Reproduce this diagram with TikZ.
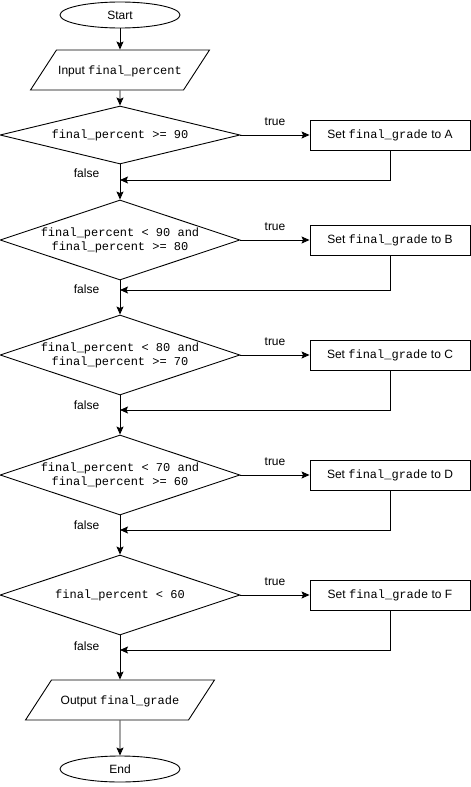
\documentclass[tikz,border=0pt]{standalone}
\usepackage{fontspec}
\setmainfont{Liberation Sans}
\setmonofont{Liberation Mono}
\usetikzlibrary{arrows.meta}
\usetikzlibrary{positioning}
\usetikzlibrary{shapes.geometric}

\tikzset{
  terminal/.style={ellipse, draw, minimum width=120pt, minimum height=26pt, inner sep=0pt},
  io/.style={trapezium, trapezium left angle=57, trapezium right angle=123,
    trapezium stretches body, draw, inner xsep=0pt, inner ysep=0pt,
    text height=24pt, text depth=16pt, minimum height=40pt},
  decision/.style={diamond, draw, aspect=3, inner sep=0pt, minimum width=240pt,
    minimum height=80pt, align=center},
  process/.style={rectangle, draw, minimum width=160pt, minimum height=30pt},
  flow/.style={-{Stealth[length=8pt,width=7pt,inset=1.5pt]}},
}

\begin{document}
\begin{tikzpicture}[x=1pt, y=-1pt, font=\fontsize{12}{14}\selectfont, line width=0.9pt]
    \useasboundingbox (0,0) rectangle (471,787);

    \node[terminal] (start) at (120,15) {Start};
    \node[io, minimum width=179pt] (input) at (120,70) {Input \texttt{final\_percent}};

    \node[decision, minimum height=58pt] (d1) at (120,135) {\texttt{final\_percent >= 90}};
    \node[decision] (d2) at (120,240) {\texttt{final\_percent < 90 and}\\\texttt{final\_percent >= 80}};
    \node[decision] (d3) at (120,355) {\texttt{final\_percent < 80 and}\\\texttt{final\_percent >= 70}};
    \node[decision] (d4) at (120,475) {\texttt{final\_percent < 70 and}\\\texttt{final\_percent >= 60}};
    \node[decision] (d5) at (120,595) {\texttt{final\_percent < 60}};

    \node[process] (setA) at (390,135) {Set \texttt{final\_grade} to A};
    \node[process] (setB) at (390,240) {Set \texttt{final\_grade} to B};
    \node[process] (setC) at (390,355) {Set \texttt{final\_grade} to C};
    \node[process] (setD) at (390,475) {Set \texttt{final\_grade} to D};
    \node[process] (setF) at (390,595) {Set \texttt{final\_grade} to F};

    \node[io, minimum width=189pt] (output) at (120,700) {Output \texttt{final\_grade}};
    \node[terminal] (end) at (120,769) {End};

    % joins on the main line
    \coordinate (j1) at (120,180);
    \coordinate (j2) at (120,290);
    \coordinate (j3) at (120,410);
    \coordinate (j4) at (120,530);
    \coordinate (j5) at (120,650);

    \draw[flow] (start) -- (input);
    \draw[flow] (input) -- (d1);

    \draw[flow] (d1) -- node[above=6pt] {true} (setA);
    \draw[flow] (d2) -- node[above=6pt] {true} (setB);
    \draw[flow] (d3) -- node[above=6pt] {true} (setC);
    \draw[flow] (d4) -- node[above=6pt] {true} (setD);
    \draw[flow] (d5) -- node[above=6pt] {true} (setF);

    \draw[flow] (d1) -- node[near start, left=17pt] {false} (d2);
    \draw[flow] (d2) -- node[near start, left=17pt] {false} (d3);
    \draw[flow] (d3) -- node[near start, left=17pt] {false} (d4);
    \draw[flow] (d4) -- node[near start, left=17pt] {false} (d5);
    \draw[flow] (d5) -- node[near start, left=17pt] {false} (output);

    \draw[flow] (setA) |- (j1);
    \draw[flow] (setB) |- (j2);
    \draw[flow] (setC) |- (j3);
    \draw[flow] (setD) |- (j4);
    \draw[flow] (setF) |- (j5);

    \draw[flow] (output) -- (end);
\end{tikzpicture}
\end{document}
